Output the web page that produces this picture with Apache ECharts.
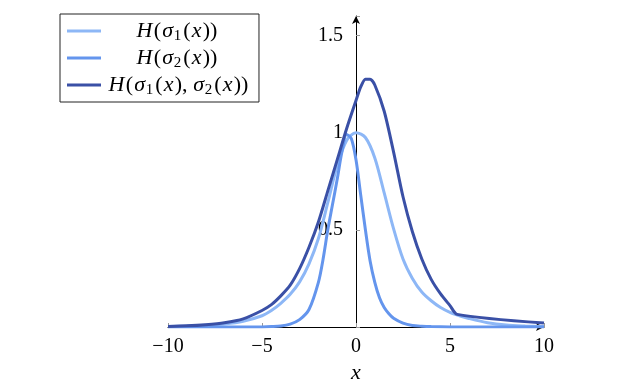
<!DOCTYPE html>
<html>
<head>
<meta charset="utf-8">
<script src="https://cdn.jsdelivr.net/npm/echarts@6/dist/echarts.min.js"></script>
<style>html,body{margin:0;padding:0;background:#fff}#c{width:630px;height:386px}</style>
</head>
<body>
<div id="c"></div>
<script>
// ---- data ----
const seriesNames = ['H(σ1(x))', 'H(σ2(x))', 'H(σ1(x),σ2(x))'];
const xTicks = [-10, -5, 0, 5, 10];
const yTicks = [0.5, 1, 1.5];

const x1 = [-10,-9,-8,-7,-6,-5,-4.5,-4,-3.5,-3,-2.5,-2,-1.5,-1,-0.5,0,0.5,1,1.5,2,2.5,3,3.5,4,4.5,5,5.5,6,7,8,9,10];
const y1 = [0.003,0.005,0.009,0.016,0.03,0.058,0.085,0.122,0.168,0.232,0.325,0.455,0.64,0.83,0.96,1.0,0.975,0.87,0.69,0.505,0.35,0.25,0.18,0.135,0.1,0.075,0.058,0.044,0.022,0.01,0.005,0.002];

const x2 = [-10,-8,-6,-5,-4.5,-4,-3.5,-3,-2.5,-2,-1.75,-1.5,-1.25,-1,-0.75,-0.5,-0.25,0,0.25,0.5,0.75,1,1.25,1.5,1.75,2,2.5,3,3.5,4,5,6,8,10];
const y2 = [0,0,0,0.0005,0.002,0.005,0.015,0.038,0.09,0.23,0.35,0.5,0.63,0.76,0.9,0.99,0.97,0.86,0.68,0.5,0.34,0.23,0.15,0.1,0.068,0.045,0.02,0.008,0.004,0.002,0.0005,0,0,0];

const x3 = [-10,-9,-8,-7,-6,-5,-4.5,-4,-3.5,-3,-2.5,-2,-1.5,-1,-0.5,0,0.25,0.5,0.75,1,1.5,2,2.5,3,3.5,4,4.5,5,5.38,10];
const y3 = [0.003,0.006,0.012,0.022,0.042,0.085,0.115,0.16,0.215,0.3,0.41,0.54,0.7,0.86,1.02,1.165,1.235,1.275,1.275,1.245,1.11,0.9,0.67,0.49,0.35,0.245,0.17,0.11,0.065,0.02];

const colors = ['#8db7f6', '#6495ed', '#3a50a6'];

const pairs = (xs, ys) => xs.map((x, i) => [x, ys[i]]);

const serif = '"Liberation Serif", "DejaVu Serif", serif';
const LH = 20;
const P = [0, 0.6, 0, 0.6];
const rich = {
  i: { fontFamily: serif, fontStyle: 'italic', fontSize: 22, color: '#000', lineHeight: LH, padding: P },
  r: { fontFamily: serif, fontSize: 22, color: '#000', lineHeight: LH, padding: P },
  s: { fontFamily: serif, fontSize: 15, color: '#000', lineHeight: LH, verticalAlign: 'bottom', padding: [0, 1.5, -3, 0] },
  sp: { width: 28, lineHeight: LH }
};
function legendLabel(name) {
  const idx = seriesNames.indexOf(name);
  if (idx === 0) return '{sp|}{i|H}{r|(}{i|σ}{s|1}{r|(}{i|x}{r|))}';
  if (idx === 1) return '{sp|}{i|H}{r|(}{i|σ}{s|2}{r|(}{i|x}{r|))}';
  return '{i|H}{r|(}{i|σ}{s|1}{r|(}{i|x}{r|),\u2009}{i|σ}{s|2}{r|(}{i|x}{r|))}';
}

const chart = echarts.init(document.getElementById('c'), null, { renderer: 'canvas' });
chart.setOption({
  animation: false,
  backgroundColor: '#fff',
  grid: { left: 168, right: 86, top: 16, bottom: 59, containLabel: false, outerBoundsMode: 'none' },
  legend: {
    orient: 'vertical',
    left: 60, top: 14,
    padding: [6, 10, 4, 7],
    itemGap: 3,
    itemWidth: 34, itemHeight: 3,
    icon: 'rect',
    borderColor: '#222', borderWidth: 1, borderRadius: 0,
    backgroundColor: '#fff',
    data: seriesNames,
    formatter: legendLabel,
    textStyle: { rich: rich, padding: [0, 0, 0, 2] },
    selectedMode: false
  },
  xAxis: {
    type: 'value', min: -10, max: 10, interval: 5,
    name: 'x', nameLocation: 'middle', nameGap: 35,
    nameTextStyle: { fontFamily: serif, fontStyle: 'italic', fontSize: 22, color: '#000' },
    axisLine: { onZero: false, lineStyle: { color: '#000', width: 1 }, symbol: ['none', 'arrow'], symbolSize: [6, 8] },
    axisTick: { show: true, inside: true, length: 4, lineStyle: { color: '#999' } },
    axisLabel: {
      fontFamily: serif, fontSize: 20, color: '#000', margin: 10,
      formatter: v => xTicks.includes(v) ? String(v).replace('-', '\u2212') : ''
    },
    splitLine: { show: false }
  },
  yAxis: {
    type: 'value', min: 0, max: 1.6, interval: 0.5,
    offset: -188,
    axisLine: { onZero: false, lineStyle: { color: '#000', width: 1 }, symbol: ['none', 'arrow'], symbolSize: [6, 8] },
    axisTick: { show: true, inside: true, length: 4, lineStyle: { color: '#999' } },
    axisLabel: {
      fontFamily: serif, fontSize: 20, color: '#000', margin: 13,
      formatter: v => yTicks.includes(v) ? String(v) : ''
    },
    splitLine: { show: false }
  },
  series: [
    { name: seriesNames[0], type: 'line', data: pairs(x1, y1), symbol: 'none', smooth: 0.3, lineStyle: { color: colors[0], width: 3 }, itemStyle: { color: colors[0] }, z: 3 },
    { name: seriesNames[1], type: 'line', data: pairs(x2, y2), symbol: 'none', smooth: 0.3, lineStyle: { color: colors[1], width: 3 }, itemStyle: { color: colors[1] }, z: 4 },
    { name: seriesNames[2], type: 'line', data: pairs(x3, y3), symbol: 'none', smooth: 0.25, lineStyle: { color: colors[2], width: 3 }, itemStyle: { color: colors[2] }, z: 5 }
  ]
});
</script>
</body>
</html>
